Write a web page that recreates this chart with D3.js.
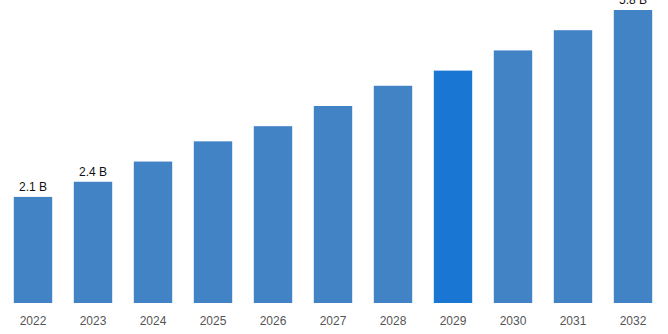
<!DOCTYPE html>
<html>
<head>
<meta charset="utf-8">
<script src="https://cdn.jsdelivr.net/npm/d3@7"></script>
<style>
  html, body { margin: 0; padding: 0; background: #fff; }
  svg { display: block; }
</style>
</head>
<body>
<svg id="chart" width="668" height="334"></svg>
<script>
// Market size by year, in billions
const years = ["2022", "2023", "2024", "2025", "2026", "2027", "2028", "2029", "2030", "2031", "2032"];
const values = [2.1, 2.4, 2.8, 3.2, 3.5, 3.9, 4.3, 4.6, 5.0, 5.4, 5.8];
// Years whose bars carry a value label
const labelledYears = ["2022", "2023", "2032"];
const highlightYear = "2029";

const width = 668, height = 334;
const baseline = 303;

const svg = d3.select("#chart");

const x = d3.scaleBand()
  .domain(years)
  .range([3, 663])
  .paddingInner(0.36)
  .paddingOuter(0.18);

const y = d3.scaleLinear()
  .domain([0, 5.8])
  .range([baseline, 10]);

const data = years.map((yr, i) => ({ year: yr, value: values[i] }));

svg.append("g")
  .selectAll("rect")
  .data(data)
  .join("rect")
  .attr("x", d => x(d.year))
  .attr("y", d => y(d.value))
  .attr("width", x.bandwidth())
  .attr("height", d => y(0) - y(d.value))
  .attr("fill", d => d.year === highlightYear ? "#1976d2" : "#4183c4");

svg.append("g")
  .selectAll("text")
  .data(data.filter(d => labelledYears.includes(d.year)))
  .join("text")
  .attr("x", d => x(d.year) + x.bandwidth() / 2)
  .attr("y", d => y(d.value) - 6)
  .attr("text-anchor", "middle")
  .attr("font-family", "Liberation Sans, Arial, sans-serif")
  .attr("font-size", 12)
  .attr("fill", "#111")
  .text(d => d.value.toFixed(1) + " B");

const axis = svg.append("g")
  .attr("transform", `translate(0,${baseline})`)
  .call(d3.axisBottom(x).tickSize(0).tickPadding(13));
axis.select(".domain").remove();
axis.selectAll("text")
  .attr("font-family", "Liberation Sans, Arial, sans-serif")
  .attr("font-size", 12)
  .attr("fill", "#555");
</script>
</body>
</html>
